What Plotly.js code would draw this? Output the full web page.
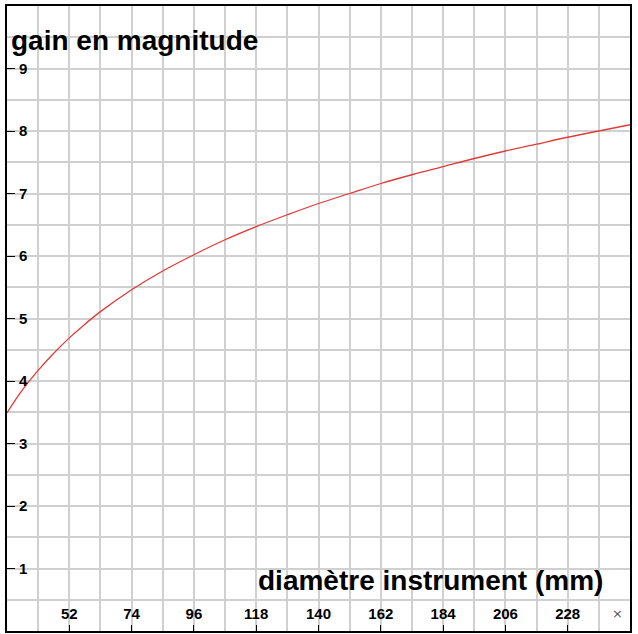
<!DOCTYPE html>
<html>
<head>
<meta charset="utf-8">
<script src="https://cdn.plot.ly/plotly-3.0.1.min.js"></script>
<style>
html,body{margin:0;padding:0;background:#fff;}
#chart{width:638px;height:634px;}
</style>
</head>
<body>
<div id="chart"></div>
<script>
// diamètre instrument (mm)
var diametre = [30, 35, 41, 46, 52, 57, 63, 74, 85, 96, 107, 118, 129, 140, 151, 162, 173, 184, 195, 206, 217, 228, 239, 250];
// gain en magnitude
var gain = [3.49, 3.83, 4.17, 4.42, 4.69, 4.89, 5.11, 5.46, 5.76, 6.02, 6.26, 6.47, 6.66, 6.84, 7.00, 7.16, 7.30, 7.43, 7.56, 7.68, 7.79, 7.90, 8.00, 8.10];
var xTicks = [52, 74, 96, 118, 140, 162, 184, 206, 228];
var yTicks = [1, 2, 3, 4, 5, 6, 7, 8, 9];

var trace = {
  x: diametre,
  y: gain,
  type: 'scatter',
  mode: 'lines',
  line: {color: '#e03a3a', width: 1.3, shape: 'spline'},
  hoverinfo: 'skip'
};

var gridCol = '#d0d0d0';
var tickFont = {family: 'Liberation Sans, Arial, sans-serif', size: 15, color: '#000', weight: 'bold'};
var bigFont = {family: 'Liberation Sans, Arial, sans-serif', size: 28, color: '#000', weight: 'bold'};

var layout = {
  width: 638,
  height: 634,
  margin: {l: 7, r: 8, t: 6, b: 3},
  paper_bgcolor: '#fff',
  plot_bgcolor: '#fff',
  showlegend: false,
  hovermode: false,
  dragmode: false,
  title: {
    text: 'gain en magnitude',
    font: bigFont,
    xref: 'container', yref: 'container',
    x: 11 / 638, xanchor: 'left',
    y: 1 - 40 / 634, yanchor: 'middle'
  },
  xaxis: {
    range: [30, 250],
    tickvals: xTicks,
    ticktext: xTicks.map(String),
    ticks: 'inside',
    ticklen: 6,
    tickwidth: 1,
    tickcolor: '#000',
    ticklabelposition: 'inside',
    ticklabelstandoff: 3,
    tickfont: tickFont,
    showgrid: true,
    gridcolor: gridCol,
    gridwidth: 2,
    minor: {dtick: 11, tick0: 30, showgrid: true, gridcolor: gridCol, gridwidth: 2, ticks: ''},
    showline: true,
    mirror: true,
    linecolor: '#000',
    linewidth: 2,
    zeroline: false,
    fixedrange: true
  },
  yaxis: {
    range: [0, 10],
    tickvals: yTicks,
    ticktext: yTicks.map(String),
    ticks: 'inside',
    ticklen: 8,
    tickwidth: 1,
    tickcolor: '#000',
    ticklabelposition: 'inside',
    ticklabelstandoff: 4,
    tickfont: tickFont,
    showgrid: true,
    gridcolor: gridCol,
    gridwidth: 2,
    minor: {dtick: 0.5, tick0: 0, showgrid: true, gridcolor: gridCol, gridwidth: 2, ticks: ''},
    showline: true,
    mirror: true,
    linecolor: '#000',
    linewidth: 2,
    zeroline: false,
    fixedrange: true
  },
  annotations: [
    {
      text: 'diamètre instrument (mm)',
      xref: 'paper', yref: 'paper',
      x: (605 - 7) / 623, xanchor: 'right',
      y: (631 - 580) / 625, yanchor: 'middle',
      showarrow: false,
      font: bigFont
    },
    {
      text: '×',
      xref: 'paper', yref: 'paper',
      x: (617 - 7) / 623, xanchor: 'center',
      y: (631 - 613) / 625, yanchor: 'middle',
      showarrow: false,
      font: {family: 'DejaVu Sans, sans-serif', size: 13, color: '#555'}
    }
  ]
};

Plotly.newPlot('chart', [trace], layout, {displayModeBar: false, responsive: false});
</script>
</body>
</html>
